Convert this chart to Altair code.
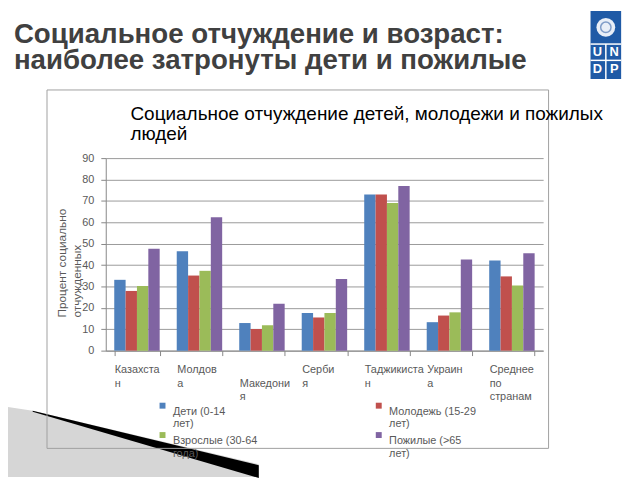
import json
import altair as alt
import pandas as pd

countries = ["Казахстан", "Молдова", "Македония", "Сербия", "Таджикистан", "Украина", "Среднее по странам"]
tick_labels = [["Казахста", "н"], ["Молдов", "а"], ["", "Македони", "я"], ["Серби", "я"],
               ["Таджикиста", "н"], ["Украин", "а"], ["Среднее", "по", "странам"]]
groups = ["Дети (0-14 лет)", "Молодежь (15-29 лет)", "Взрослые (30-64 года)", "Пожилые (>65 лет)"]
children = [33.1, 46.4, 12.9, 17.6, 73.0, 13.3, 42.1]
youth = [27.9, 35.1, 10.1, 15.5, 73.0, 16.4, 34.7]
adults = [30.2, 37.3, 11.9, 17.6, 69.0, 17.9, 30.5]
elderly = [47.6, 62.3, 21.9, 33.5, 77.0, 42.6, 45.5]
colors = ["#4F81BD", "#C0504D", "#9BBB59", "#8064A2"]
y_ticks = list(range(0, 100, 10))
slide_title = ["Социальное отчуждение и возраст:", "наиболее затронуты дети и пожилые"]
chart_title = ["Социальное отчуждение детей, молодежи и пожилых", "людей"]
y_title = ["Процент социально", "отчужденных"]

rows = []
for i, c in enumerate(countries):
    for g, vals in zip(groups, [children, youth, adults, elderly]):
        rows.append({"country": c, "group": g, "value": vals[i]})
df = pd.DataFrame(rows)

label_expr = "".join(
    f"datum.value == {json.dumps(c, ensure_ascii=False)} ? {json.dumps(l, ensure_ascii=False)} : "
    for c, l in zip(countries, tick_labels)
) + "datum.label"

legend_expr = ("[slice(datum.label, 0, lastindexof(datum.label, ' ')), "
               "slice(datum.label, lastindexof(datum.label, ' ') + 1)]")

GRAY = "#595959"
AX = "#868686"
FONT = "Liberation Sans"

bars = alt.Chart(df).mark_bar().encode(
    x=alt.X("country:N", sort=countries, title=None,
            scale=alt.Scale(paddingInner=0.273, paddingOuter=0.136),
            axis=alt.Axis(labelExpr=label_expr, labelAlign="left", labelOffset=-23,
                          labelBaseline="top", labelPadding=8, labelFontSize=11,
                          labelColor=GRAY, labelFont=FONT, labelLineHeight=14, labelAngle=0,
                          tickBand="extent", tickSize=5, tickColor=AX, domainColor=AX,
                          labelOverlap=False, labelLimit=0, grid=False)),
    xOffset=alt.XOffset("group:N", sort=groups,
                        scale=alt.Scale(paddingInner=0, paddingOuter=0)),
    y=alt.Y("value:Q", scale=alt.Scale(domain=[0, 90], nice=False),
            axis=alt.Axis(values=y_ticks, title=y_title, titleAngle=270, titleAlign="left",
                          titleBaseline="alphabetic", titleX=-41, titleY=161, titleFontSize=12,
                          titleFont=FONT, titleFontWeight="normal", titleColor=GRAY,
                          titleLineHeight=15, labelFontSize=11, labelColor=GRAY, labelFont=FONT,
                          labelPadding=7, tickSize=5, tickColor=AX, domainColor=AX,
                          gridColor="#999999", gridWidth=1)),
    color=alt.Color("group:N", sort=groups, scale=alt.Scale(domain=groups, range=colors),
                    legend=alt.Legend(title=None, orient="none", legendX=52, legendY=245,
                                      direction="horizontal", columns=2, columnPadding=115,
                                      rowPadding=-6, symbolType="square", symbolSize=36,
                                      symbolStrokeWidth=0, symbolOpacity=1, labelFontSize=11,
                                      labelColor=GRAY, labelFont=FONT, labelExpr=legend_expr,
                                      labelOffset=5, labelLimit=0, padding=0,
                                      labelBaseline="top", gridAlign="all")),
)

one = alt.Data(values=[{}])

hatch = alt.Chart(one).mark_point(
    shape="M0,-72L33,-67L262,-13L262,0L0,0Z", size=4, filled=True,
    fill="#d6d6d6", opacity=1, strokeWidth=0
).encode(x=alt.value(-107), y=alt.value(323))

wedge = alt.Chart(one).mark_point(
    shape="M33,-67L262,-12L262,1L33,-66Z", size=4, filled=True,
    fill="#000000", opacity=1, strokeWidth=0
).encode(x=alt.value(-107), y=alt.value(323))

box = alt.Chart(one).mark_rect(filled=False, stroke="#a0a0a0", strokeWidth=1).encode(
    x=alt.value(-59.5), x2=alt.value(448.5), y=alt.value(-69), y2=alt.value(294))

title1 = alt.Chart(one).mark_text(
    text=slide_title, align="left", baseline="alphabetic", font=FONT, fontSize=28,
    fontWeight="bold", color="#404040", lineHeight=27
).encode(x=alt.value(-93), y=alt.value(-117))

title2 = alt.Chart(one).mark_text(
    text=chart_title, align="left", baseline="alphabetic", font=FONT, fontSize=19.2,
    color="#000000", lineHeight=21
).encode(x=alt.value(25), y=alt.value(-39))

LOGO = "#1f5aa6"
logo_bg = alt.Chart(one).mark_rect(color=LOGO).encode(
    x=alt.value(491), x2=alt.value(522), y=alt.value(-149), y2=alt.value(-80))
logo_h1 = alt.Chart(one).mark_rule(color="white", strokeWidth=1.5).encode(
    x=alt.value(491), x2=alt.value(522), y=alt.value(-115.5))
logo_h2 = alt.Chart(one).mark_rule(color="white", strokeWidth=1.5).encode(
    x=alt.value(491), x2=alt.value(522), y=alt.value(-99))
logo_v = alt.Chart(one).mark_rule(color="white", strokeWidth=1.5).encode(
    x=alt.value(506.5), y=alt.value(-115.5), y2=alt.value(-80))
emblem = alt.Chart(one).mark_point(shape="circle", size=361, filled=True, fill="#e8eef7",
                                   opacity=1, strokeWidth=0).encode(
    x=alt.value(506.5), y=alt.value(-132.5))
emblem_in = alt.Chart(one).mark_point(shape="circle", size=110, filled=False,
                                      stroke="#7f9cc8", opacity=1, strokeWidth=1.5).encode(
    x=alt.value(506.5), y=alt.value(-132.5))

letters = []
for ch, lx, ly in [("U", 498, -107), ("N", 515, -107), ("D", 498, -90), ("P", 515, -90)]:
    letters.append(alt.Chart(one).mark_text(
        text=ch, align="center", baseline="middle", font=FONT, fontSize=13,
        fontWeight="bold", color="white").encode(x=alt.value(lx), y=alt.value(ly)))

chart = alt.layer(
    hatch, wedge, box, bars, title1, title2,
    logo_bg, emblem, emblem_in, logo_h1, logo_h2, logo_v, *letters
).properties(
    width=443, height=195,
    autosize=alt.AutoSizeParams(type="none"),
    padding={"left": 99, "top": 149, "right": 90, "bottom": 128},
    background="white",
).configure_view(strokeWidth=0).configure_legend(rowPadding=-6)

chart.save("out.html", embed_options={"renderer": "svg", "actions": False})
